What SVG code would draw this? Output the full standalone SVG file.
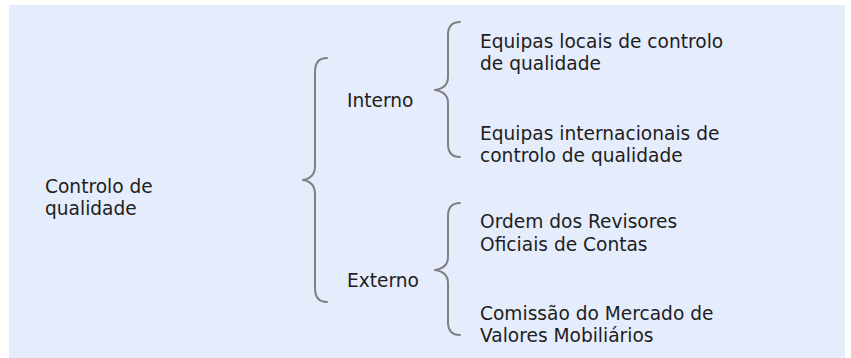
<svg xmlns="http://www.w3.org/2000/svg" width="851" height="358" viewBox="0 0 851 358">
<style>
.t{font-family:"DejaVu Sans","Liberation Sans",sans-serif;font-size:18.6px;fill:#1e1e1e}
.b{fill:none;stroke:#808080;stroke-width:2;stroke-linecap:round;stroke-linejoin:round}
</style>
<rect x="9" y="5" width="836" height="353" fill="#e5ecfc"/>
<g id="connectors">
<path class="b" d="M327,58 Q315,58 315,72 L315,166 Q315,178 303,180 Q315,182 315,194 L315,288 Q315,302 327,302"/>
<path class="b" d="M460,22 Q448,22 448,35 L448,77 Q448,88 435,90 Q448,92 448,103 L448,144 Q448,157 460,157"/>
<path class="b" d="M460,203 Q448,203 448,216 L448,257 Q448,268 435,270 Q448,272 448,283 L448,322 Q448,335 460,335"/>
</g>
<g id="root"><text class="t" x="45" y="193">Controlo de</text><text class="t" x="45" y="215">qualidade</text></g>
<g id="interno"><text class="t" x="347" y="107">Interno</text></g>
<g id="externo"><text class="t" x="347" y="287">Externo</text></g>
<g id="locais"><text class="t" x="480" y="48">Equipas locais de controlo</text><text class="t" x="480" y="70">de qualidade</text></g>
<g id="internacionais"><text class="t" x="480" y="140">Equipas internacionais de</text><text class="t" x="480" y="162">controlo de qualidade</text></g>
<g id="ordem"><text class="t" x="480" y="228">Ordem dos Revisores</text><text class="t" x="480" y="251">Oficiais de Contas</text></g>
<g id="cmvm"><text class="t" x="480" y="320">Comissão do Mercado de</text><text class="t" x="480" y="342">Valores Mobiliários</text></g>
</svg>
